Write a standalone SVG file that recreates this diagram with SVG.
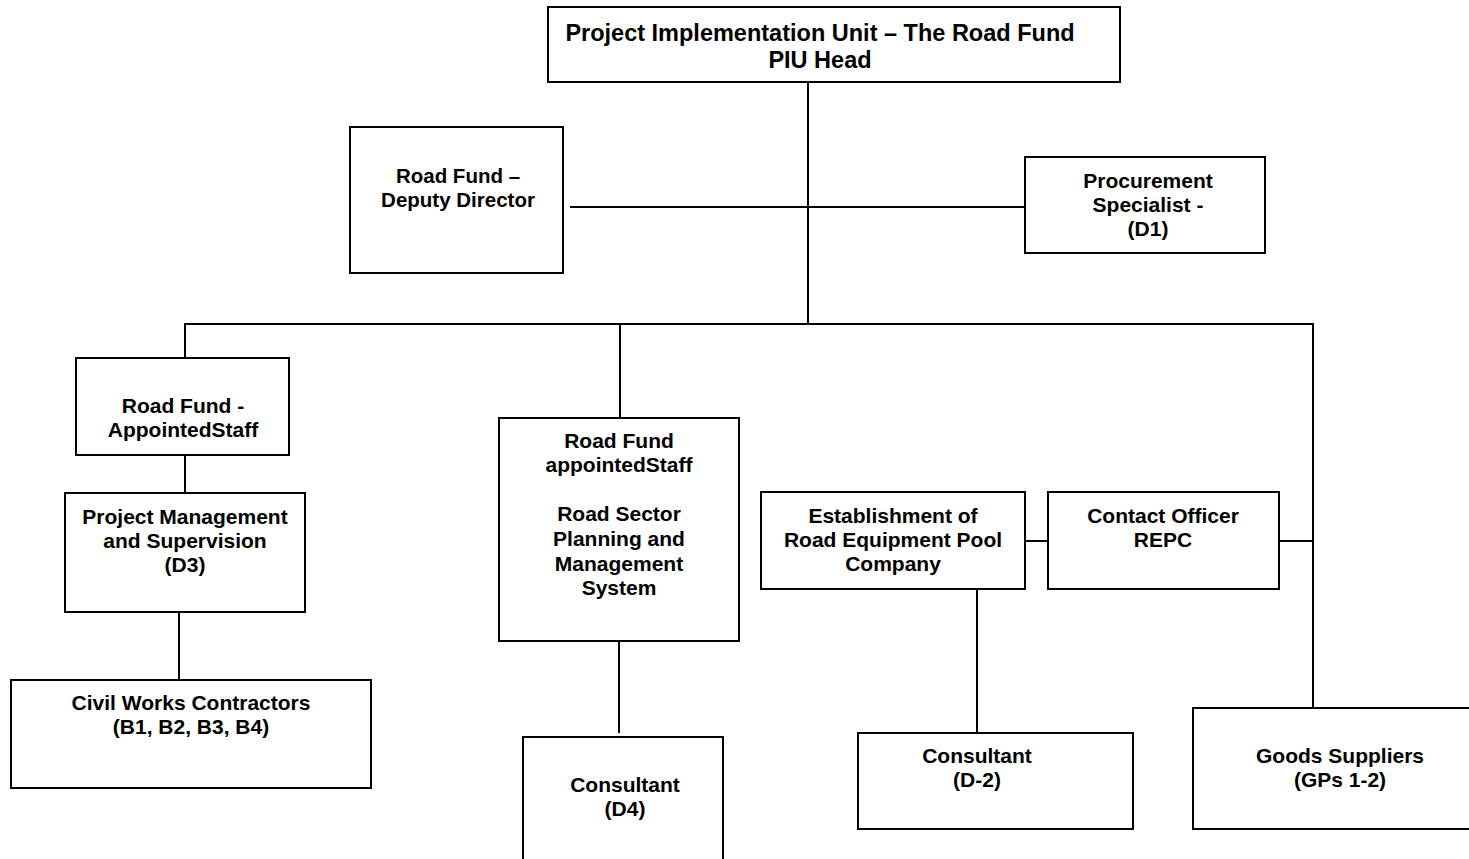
<svg xmlns="http://www.w3.org/2000/svg" width="1469" height="859" viewBox="0 0 1469 859">
<style>
.box{fill:#fff;stroke:#000;stroke-width:2}
.ln{stroke:#000;stroke-width:2;fill:none}
text{font-family:"Liberation Sans",Arial,sans-serif;font-weight:bold;font-size:21px;text-anchor:middle;fill:#000}
.big{font-size:23.5px}
.dep{font-size:20.5px}
</style>
<rect width="1469" height="859" fill="#fff"/>
<g id="connectors">
<line class="ln" x1="808" y1="82" x2="808" y2="324"/>
<line class="ln" x1="570" y1="207" x2="1025" y2="207"/>
<line class="ln" x1="185" y1="324" x2="1313" y2="324"/>
<line class="ln" x1="185" y1="323" x2="185" y2="358"/>
<line class="ln" x1="620" y1="323" x2="620" y2="418"/>
<line class="ln" x1="1313" y1="323" x2="1313" y2="708"/>
<line class="ln" x1="185" y1="455" x2="185" y2="503"/>
<line class="ln" x1="179" y1="612" x2="179" y2="680"/>
<line class="ln" x1="619" y1="641" x2="619" y2="733"/>
<line class="ln" x1="1025" y1="541" x2="1048" y2="541"/>
<line class="ln" x1="1279" y1="541" x2="1313" y2="541"/>
<line class="ln" x1="977" y1="589" x2="977" y2="733"/>
</g>
<g id="piu">
<rect class="box" x="548" y="7" width="572" height="75"/>
<text class="big" x="820" y="41">Project Implementation Unit – The Road Fund</text>
<text class="big" x="820" y="68">PIU Head</text>
</g>
<g id="deputy">
<rect class="box" x="350" y="127" width="213" height="146"/>
<text class="dep" x="458" y="183">Road Fund –</text>
<text class="dep" x="458" y="207">Deputy Director</text>
</g>
<g id="procurement">
<rect class="box" x="1025" y="157" width="240" height="96"/>
<text x="1148" y="188">Procurement</text>
<text x="1148" y="212">Specialist -</text>
<text x="1148" y="236">(D1)</text>
</g>
<g id="appointed">
<rect class="box" x="76" y="358" width="213" height="97"/>
<text x="183" y="413">Road Fund -</text>
<text x="183" y="437">AppointedStaff</text>
</g>
<g id="pms">
<rect class="box" x="65" y="493" width="240" height="119"/>
<text x="185" y="524">Project Management</text>
<text x="185" y="548">and Supervision</text>
<text x="185" y="572">(D3)</text>
</g>
<g id="civil">
<rect class="box" x="11" y="680" width="360" height="108"/>
<text x="191" y="710">Civil Works Contractors</text>
<text x="191" y="734">(B1, B2, B3, B4)</text>
</g>
<g id="rsp">
<rect class="box" x="499" y="418" width="240" height="223"/>
<text x="619" y="448">Road Fund</text>
<text x="619" y="472">appointedStaff</text>
<text x="619" y="521">Road Sector</text>
<text x="619" y="546">Planning and</text>
<text x="619" y="571">Management</text>
<text x="619" y="595">System</text>
</g>
<g id="consultant-d4">
<rect class="box" x="523" y="737" width="200" height="130"/>
<text x="625" y="792">Consultant</text>
<text x="625" y="816">(D4)</text>
</g>
<g id="repc">
<rect class="box" x="761" y="492" width="264" height="97"/>
<text x="893" y="523">Establishment of</text>
<text x="893" y="547">Road Equipment Pool</text>
<text x="893" y="571">Company</text>
</g>
<g id="contact">
<rect class="box" x="1048" y="492" width="231" height="97"/>
<text x="1163" y="523">Contact Officer</text>
<text x="1163" y="547">REPC</text>
</g>
<g id="consultant-d2">
<rect class="box" x="858" y="733" width="275" height="96"/>
<text x="977" y="763">Consultant</text>
<text x="977" y="787">(D-2)</text>
</g>
<g id="goods">
<rect class="box" x="1193" y="708" width="285" height="121"/>
<text x="1340" y="763">Goods Suppliers</text>
<text x="1340" y="787">(GPs 1-2)</text>
</g>
</svg>
